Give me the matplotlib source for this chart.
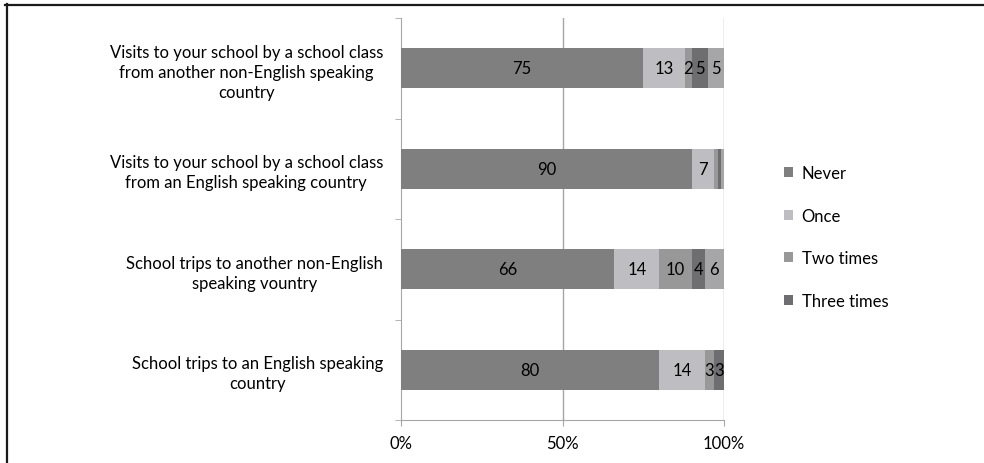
import numpy as np
import matplotlib.pyplot as plt
from matplotlib.patches import Patch
from matplotlib.lines import Line2D

plt.rcParams['font.family'] = ['Lato', 'DejaVu Sans']

# Survey items, top to bottom
categories = [
    "Visits to your school by a school class\nfrom another non-English speaking\ncountry",
    "Visits to your school by a school class\nfrom an English speaking country",
    "School trips to another non-English\nspeaking vountry",
    "School trips to an English speaking\ncountry",
]

series_names = ["Never", "Once", "Two times", "Three times"]

# Percent of answers per item
never = [75, 90, 66, 80]
once = [13, 7, 14, 14]
two_times = [2, 1, 10, 3]
three_times = [5, 1, 4, 3]
more_times = [5, 1, 6, 0]

tick_labels = ["0%", "50%", "100%"]

series = [never, once, two_times, three_times, more_times]
colors = ["#7f7f7f", "#bebec2", "#989899", "#6e6e71", "#a6a6a9"]
fs = 12

fig = plt.figure(figsize=(9.84, 4.64), dpi=100)
ax = fig.add_axes([401 / 984, 1 - 421 / 464, 323 / 984, 402 / 464])

y = np.arange(len(categories))
left = np.zeros(len(categories))
for vals, col in zip(series, colors):
    vals = np.array(vals, dtype=float)
    ax.barh(y, vals, left=left, height=0.4, color=col, edgecolor="none", zorder=3)
    for yi, v, l in zip(y, vals, left):
        if v >= 2:
            ax.text(l + v / 2, yi, f"{v:g}", ha="center", va="center",
                    fontsize=fs, color="black", zorder=4)
    left += vals

ax.set_xlim(0, 100)
ax.set_ylim(len(categories) - 0.5, -0.5)
ax.set_xticks([0, 50, 100])
ax.set_xticklabels(tick_labels, fontsize=fs)
ax.set_yticks(y)
ax.set_yticklabels(categories, fontsize=fs, multialignment="center", linespacing=1.3)
ax.set_yticks(np.arange(len(categories) + 1) - 0.5, minor=True)

ax.tick_params(axis="y", which="major", length=0, pad=13)
ax.tick_params(axis="y", which="minor", length=4, color="#a6a6a6", direction="out")
ax.tick_params(axis="x", length=4, color="#a6a6a6", pad=7)

for v in [50, 100]:
    ax.axvline(v, color="#a6a6a6", lw=1, zorder=1)
for side in ["top", "right"]:
    ax.spines[side].set_visible(False)
for side in ["left", "bottom"]:
    ax.spines[side].set_color("#a6a6a6")

handles = [Patch(facecolor=c, edgecolor="none") for c in colors[:4]]
fig.legend(handles, series_names, loc="upper left", bbox_to_anchor=(769 / 984, 1 - 151 / 464),
           frameon=False, fontsize=fs, handlelength=0.55, handleheight=0.55,
           handletextpad=0.5, labelspacing=1.6)

# frame lines along the top and left edges
fig.add_artist(Line2D([5 / 984, 1], [1 - 5.5 / 464, 1 - 5.5 / 464], color="#1a1a1a", lw=1.6))
fig.add_artist(Line2D([6.5 / 984, 6.5 / 984], [0, 1 - 5 / 464], color="#1a1a1a", lw=1.6))

fig.savefig("out.png", dpi=100, facecolor="white")
